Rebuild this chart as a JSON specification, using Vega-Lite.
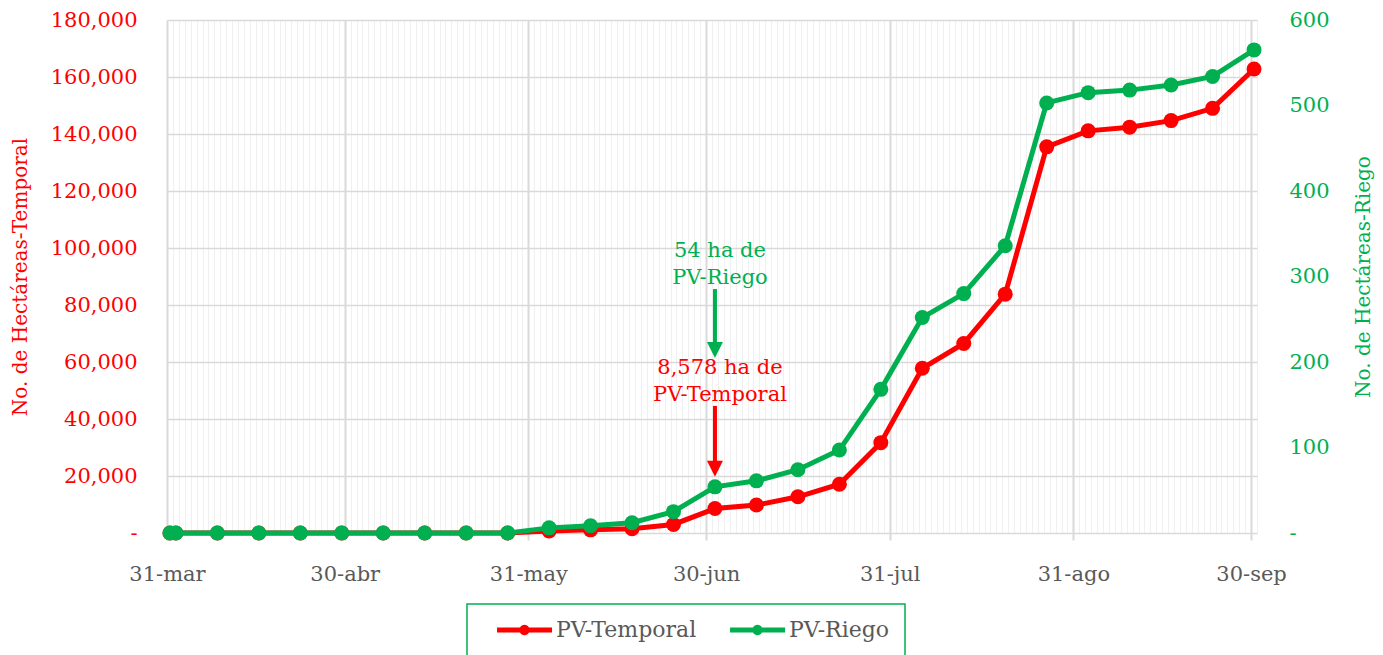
{
  "$schema": "https://vega.github.io/schema/vega-lite/v6.json",
  "width": 1090,
  "height": 513,
  "autosize": {"type": "none"},
  "padding": {"left": 167, "top": 20, "right": 126, "bottom": 122},
  "config": {
    "font": "DejaVu Serif",
    "view": {"stroke": null},
    "axis": {"titleFontWeight": "normal", "labelFont": "DejaVu Serif", "titleFont": "DejaVu Serif"}
  },
  "datasets": {
    "series": [
      {"date": "2024-03-31T12:00:00Z", "temporal": 0, "riego": 0},
      {"date": "2024-04-01T12:00:00Z", "temporal": 0, "riego": 0},
      {"date": "2024-04-08T12:00:00Z", "temporal": 0, "riego": 0},
      {"date": "2024-04-15T12:00:00Z", "temporal": 0, "riego": 0},
      {"date": "2024-04-22T12:00:00Z", "temporal": 0, "riego": 0},
      {"date": "2024-04-29T12:00:00Z", "temporal": 0, "riego": 0},
      {"date": "2024-05-06T12:00:00Z", "temporal": 0, "riego": 0},
      {"date": "2024-05-13T12:00:00Z", "temporal": 0, "riego": 0},
      {"date": "2024-05-20T12:00:00Z", "temporal": 0, "riego": 0},
      {"date": "2024-05-27T12:00:00Z", "temporal": 0, "riego": 0},
      {"date": "2024-06-03T12:00:00Z", "temporal": 700, "riego": 6},
      {"date": "2024-06-10T12:00:00Z", "temporal": 1100, "riego": 8.5},
      {"date": "2024-06-17T12:00:00Z", "temporal": 1500, "riego": 12},
      {"date": "2024-06-24T12:00:00Z", "temporal": 3000, "riego": 25},
      {"date": "2024-07-01T12:00:00Z", "temporal": 8578, "riego": 54},
      {"date": "2024-07-08T12:00:00Z", "temporal": 9800, "riego": 61},
      {"date": "2024-07-15T12:00:00Z", "temporal": 12700, "riego": 74},
      {"date": "2024-07-22T12:00:00Z", "temporal": 17100, "riego": 97},
      {"date": "2024-07-29T12:00:00Z", "temporal": 31700, "riego": 168},
      {"date": "2024-08-05T12:00:00Z", "temporal": 57800, "riego": 252},
      {"date": "2024-08-12T12:00:00Z", "temporal": 66500, "riego": 280},
      {"date": "2024-08-19T12:00:00Z", "temporal": 83800, "riego": 336},
      {"date": "2024-08-26T12:00:00Z", "temporal": 135500, "riego": 503},
      {"date": "2024-09-02T12:00:00Z", "temporal": 141100, "riego": 515},
      {"date": "2024-09-09T12:00:00Z", "temporal": 142400, "riego": 518},
      {"date": "2024-09-16T12:00:00Z", "temporal": 144700, "riego": 524},
      {"date": "2024-09-23T12:00:00Z", "temporal": 149000, "riego": 534},
      {"date": "2024-09-30T12:00:00Z", "temporal": 162800, "riego": 565}
    ],
    "labels": [
      {"date": "2024-07-01T12:00:00Z", "y": 98900, "label": "54 ha de\nPV-Riego", "serie": "PV-Riego"},
      {"date": "2024-07-01T12:00:00Z", "y": 57900, "label": "8,578 ha de\nPV-Temporal", "serie": "PV-Temporal"}
    ],
    "arrows": [
      {"date": "2024-07-01T12:00:00Z", "y": 85600, "y2": 66000, "tip": 61400, "serie": "PV-Riego"},
      {"date": "2024-07-01T12:00:00Z", "y": 44600, "y2": 25000, "tip": 19700, "serie": "PV-Temporal"}
    ]
  },
  "data": {"name": "series"},
  "encoding": {
    "x": {
      "field": "date",
      "type": "temporal",
      "scale": {
        "type": "utc",
        "nice": false,
        "domain": [
          {"year": 2024, "month": 3, "date": 31, "utc": true},
          {"year": 2024, "month": 10, "date": 1, "utc": true}
        ]
      },
      "axis": {
        "orient": "bottom",
        "title": null,
        "domain": false,
        "tickCount": {"interval": "day", "step": 1},
        "grid": true,
        "gridColor": {"condition": {"test": "utcdate(+datum.value + 86400000) == 1", "value": "#D9D9D9"}, "value": "#F0F0F0"},
        "gridWidth": {"condition": {"test": "utcdate(+datum.value + 86400000) == 1", "value": 2}, "value": 1},
        "ticks": true,
        "tickSize": 7,
        "tickWidth": 2,
        "tickColor": {"condition": {"test": "utcdate(+datum.value + 86400000) == 1", "value": "#D9D9D9"}, "value": "transparent"},
        "labelExpr": "utcdate(+datum.value + 86400000) == 1 ? utcdate(datum.value) + '-' + ['ene','feb','mar','abr','may','jun','jul','ago','sep','oct','nov','dic'][utcmonth(datum.value)] : ''",
        "labelOverlap": false,
        "labelFlush": false,
        "labelBound": false,
        "labelFontSize": 21,
        "labelColor": "#595959",
        "labelPadding": 23
      }
    }
  },
  "layer": [
    {
      "layer": [
        {
          "mark": {"type": "line", "strokeWidth": 5},
          "encoding": {
            "y": {
              "field": "temporal",
              "type": "quantitative",
              "scale": {"domain": [0, 180000], "nice": false},
              "axis": {
                "orient": "left",
                "values": [0, 20000, 40000, 60000, 80000, 100000, 120000, 140000, 160000, 180000],
                "grid": true,
                "gridColor": "#D9D9D9",
                "gridWidth": 1.5,
                "domain": false,
                "ticks": false,
                "labelColor": "#FF0000",
                "labelFontSize": 21,
                "labelPadding": 30,
                "labelExpr": "datum.value == 0 ? '- ' : format(datum.value, ',')",
                "title": "No. de Hectáreas-Temporal",
                "titleColor": "#FF0000",
                "titleFontSize": 20,
                "titlePadding": 20
              }
            },
            "color": {
              "datum": "PV-Temporal",
              "type": "nominal",
              "scale": {"domain": ["PV-Temporal", "PV-Riego"], "range": ["#FF0000", "#00B050"]},
              "legend": {
                "title": " ",
                "titleOrient": "left",
                "titleFontSize": 1,
                "titlePadding": 30,
                "orient": "none",
                "legendX": 300,
                "legendY": 584,
                "direction": "horizontal",
                "strokeColor": "#00B050",
                "fillColor": "#FFFFFF",
                "padding": 15,
                "symbolType": "M-2.36,-0.227H2.64V0.227H-2.36Z M0.59,0A0.4545,0.4545 0 1,1 -0.318,0A0.4545,0.4545 0 1,1 0.59,0Z",
                "symbolSize": 484,
                "symbolStrokeWidth": 0,
                "labelOffset": 22,
                "columnPadding": 33,
                "labelFontSize": 22,
                "labelColor": "#595959",
                "labelFont": "DejaVu Serif",
                "encode": {
                  "legend": {"update": {"strokeWidth": {"value": 1.5}}},
                  "symbols": {"update": {"fill": {"scale": "color", "field": "value"}, "stroke": {"value": "transparent"}, "opacity": {"value": 1}}}
                }
              }
            }
          }
        },
        {
          "mark": {"type": "point", "filled": true, "size": 225, "opacity": 1},
          "encoding": {
            "y": {"field": "temporal", "type": "quantitative"},
            "color": {"datum": "PV-Temporal", "type": "nominal"}
          }
        },
        {
          "data": {"name": "labels"},
          "mark": {"type": "text", "lineBreak": "\n", "lineHeight": 27, "fontSize": 21, "dx": 5, "baseline": "middle", "align": "center"},
          "encoding": {
            "y": {"field": "y", "type": "quantitative"},
            "text": {"field": "label"},
            "color": {"field": "serie", "type": "nominal"}
          }
        },
        {
          "data": {"name": "arrows"},
          "mark": {"type": "rule", "strokeWidth": 4},
          "encoding": {
            "y": {"field": "y", "type": "quantitative"},
            "y2": {"field": "y2"},
            "color": {"field": "serie", "type": "nominal"}
          }
        },
        {
          "data": {"name": "arrows"},
          "mark": {"type": "point", "shape": "M-1,-2L1,-2L0,0Z", "size": 256, "filled": true, "opacity": 1},
          "encoding": {
            "y": {"field": "tip", "type": "quantitative"},
            "color": {"field": "serie", "type": "nominal"}
          }
        }
      ]
    },
    {
      "layer": [
        {
          "mark": {"type": "line", "strokeWidth": 5},
          "encoding": {
            "y": {
              "field": "riego",
              "type": "quantitative",
              "scale": {"domain": [0, 600], "nice": false},
              "axis": {
                "orient": "right",
                "values": [0, 100, 200, 300, 400, 500, 600],
                "grid": false,
                "domain": false,
                "ticks": false,
                "labelColor": "#00B050",
                "labelFontSize": 21,
                "labelPadding": 32,
                "labelExpr": "datum.value == 0 ? '-' : format(datum.value, ',')",
                "title": "No. de Hectáreas-Riego",
                "titleColor": "#00B050",
                "titleFontSize": 20,
                "titleAngle": -90,
                "titleBaseline": "top",
                "titlePadding": 24
              }
            },
            "color": {"datum": "PV-Riego", "type": "nominal"}
          }
        },
        {
          "mark": {"type": "point", "filled": true, "size": 225, "opacity": 1},
          "encoding": {
            "y": {"field": "riego", "type": "quantitative"},
            "color": {"datum": "PV-Riego", "type": "nominal"}
          }
        }
      ]
    }
  ],
  "resolve": {"scale": {"y": "independent"}, "axis": {"y": "independent"}}
}
